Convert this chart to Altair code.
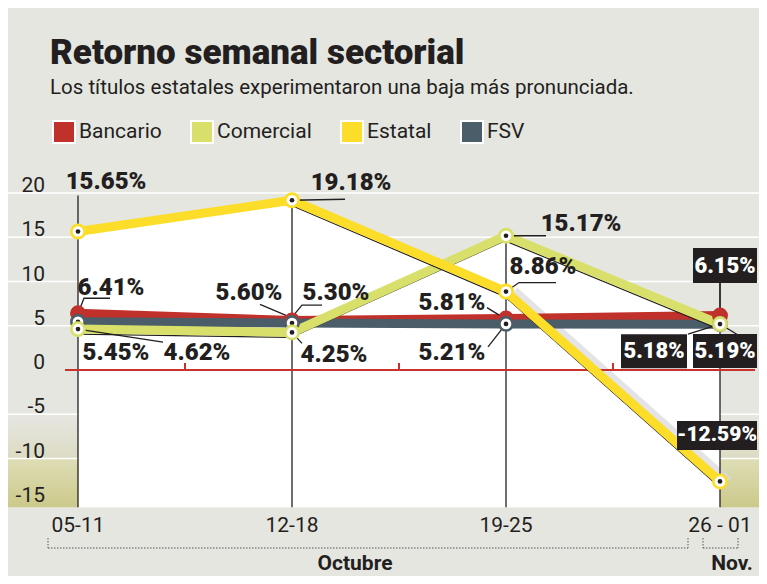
import altair as alt
import pandas as pd

# ---------------- data ----------------
weeks = ["05-11", "12-18", "19-25", "26 - 01"]
series_names = ["Bancario", "Comercial", "Estatal", "FSV"]
bancario = [6.41, 5.60, 5.81, 6.15]
comercial = [4.62, 4.25, 15.17, 5.19]
estatal = [15.65, 19.18, 8.86, -12.59]
fsv = [5.45, 5.30, 5.21, 5.18]
y_tick_values = [20, 15, 10, 5, 0, -5, -10, -15]
grid_values = [20, 15, 10, 5, -5, -10]
month_labels = ["Octubre", "Nov."]
title_text = "Retorno semanal sectorial"
subtitle_text = "Los títulos estatales experimentaron una baja más pronunciada."

values = {"Bancario": bancario, "Comercial": comercial, "Estatal": estatal, "FSV": fsv}

# ---------------- styles ----------------
series_colors = ["#C0312B", "#D8E06B", "#FCDD2A", "#4B5D68"]
color_of = dict(zip(series_names, series_colors))
BG = "#E6E6E1"
INK = "#231F20"
RED = "#C8322B"
FONT = "Roboto"

# ---------------- layout ----------------
W, H = 751, 568
PX_X, PX_Y = 214.0, 8.85
X0_PX, ZERO_PX = 70.0, 362.0
X_DOMAIN = [-X0_PX / PX_X, (W - X0_PX) / PX_X]
Y_DOMAIN = [(ZERO_PX - H) / PX_Y, ZERO_PX / PX_Y]
PLOT_BOTTOM = -15.5
DRAW_ORDER = ["Bancario", "FSV", "Comercial", "Estatal"]
RINGED = ["FSV", "Comercial", "Estatal"]
SHADOW_FROM = {"Comercial": 0, "Estatal": 1}
VLINE_EXTRA_PX = [36, 0, 0, 33]

# label layout: series, week index, dx, dy (px from point), boxed, box w, box h, font size, leader offsets (px)
LABELS = [
    ("Estatal", 0, 28, -49, False, 0, 0, 24, []),
    ("Estatal", 1, 59, -17, False, 0, 0, 24, [(0, 0), (53, -1)]),
    ("Bancario", 0, 33, -25, False, 0, 0, 24, [(0, 0), (6, -15), (32, -15)]),
    ("FSV", 0, 38, 31, False, 0, 0, 24, []),
    ("Comercial", 0, 119, 24, False, 0, 0, 24, [(0, 0), (85, 13)]),
    ("Bancario", 1, -43, -27, False, 0, 0, 24, [(-6, -5), (-32, -16)]),
    ("FSV", 1, 44, -30, False, 0, 0, 24, [(0, -6), (10, -18), (30, -18)]),
    ("Comercial", 1, 42, 23, False, 0, 0, 24, [(0, 0), (10, 11)]),
    ("Comercial", 2, 75, -12, False, 0, 0, 24, [(0, 0), (40, 0)]),
    ("Estatal", 2, 37, -25, False, 0, 0, 24, [(0, 0), (13, -9), (50, -9)]),
    ("Bancario", 2, -54, -16, False, 0, 0, 24, [(-6, -3), (-19, -11)]),
    ("FSV", 2, -54, 29, False, 0, 0, 24, [(0, 0), (-18, 23)]),
    ("Bancario", 3, 5, -50, True, 64, 35, 22, [(0, 0), (0, -33)]),
    ("FSV", 3, -66, 27, True, 66, 34, 22, [(0, 0), (-32, 10)]),
    ("Comercial", 3, 5, 27, True, 64, 34, 22, [(0, 0), (18, 11)]),
    ("Estatal", 3, -3, -46, True, 80, 29, 21, []),
]


def ox(i, dx):
    return i + dx / PX_X


def oy(v, dy):
    return v - dy / PX_Y


def X(f):
    return alt.X(f"{f}:Q", scale=alt.Scale(domain=X_DOMAIN, nice=False, zero=False), axis=None)


def Y(f):
    return alt.Y(f"{f}:Q", scale=alt.Scale(domain=Y_DOMAIN, nice=False, zero=False), axis=None)


rows = []
for s in series_names:
    for i, v in enumerate(values[s]):
        rows.append({"series": s, "idx": i, "value": v, "base": PLOT_BOTTOM})
df = pd.DataFrame(rows)

layers = []

# gradient bands at the bottom
band_df = pd.DataFrame({"x": [X_DOMAIN[0], X_DOMAIN[0]], "x2": [X_DOMAIN[1], X_DOMAIN[1]],
                        "y": [-5.3, -10.0], "y2": [-10.0, PLOT_BOTTOM], "b": [0, 1]})
grad1 = alt.Gradient(gradient="linear", x1=0, x2=0, y1=0, y2=1,
                     stops=[alt.GradientStop(color=BG, offset=0), alt.GradientStop(color="#DCDBC3", offset=1)])
grad2 = alt.Gradient(gradient="linear", x1=0, x2=0, y1=0, y2=1,
                     stops=[alt.GradientStop(color="#DEDDB6", offset=0), alt.GradientStop(color="#CCC98B", offset=1)])
layers.append(alt.Chart(band_df[band_df.b == 0]).mark_rect(color=grad1).encode(
    x=X("x"), x2="x2:Q", y=Y("y"), y2="y2:Q"))
layers.append(alt.Chart(band_df[band_df.b == 1]).mark_rect(color=grad2).encode(
    x=X("x"), x2="x2:Q", y=Y("y"), y2="y2:Q"))

# white gridlines
grid_df = pd.DataFrame({"y": grid_values, "x": X_DOMAIN[0], "x2": X_DOMAIN[1]})
layers.append(alt.Chart(grid_df).mark_rule(color="white", strokeWidth=1.5).encode(
    x=X("x"), x2="x2:Q", y=Y("y")))

# white plotting area under the upper series
for s in ["Estatal", "Comercial", "Bancario"]:
    layers.append(alt.Chart(df[df.series == s]).mark_area(color="white", opacity=1).encode(
        x=X("idx"), y=Y("value"), y2="base:Q"))

# soft shadow beside the falling Estatal line
sd_e = df[(df.series == "Estatal") & (df.idx >= 2)]
layers.append(alt.Chart(sd_e).mark_line(color="#D9D9DE", strokeWidth=10, opacity=0.7, xOffset=8).encode(
    x=X("idx"), y=Y("value"), order="idx:Q"))

# vertical week lines
vrows = []
for i in range(len(weeks)):
    top = max(values[s][i] for s in series_names) + VLINE_EXTRA_PX[i] / PX_Y
    vrows.append({"x": i, "y": PLOT_BOTTOM, "y2": top})
vdf = pd.DataFrame(vrows)
layers.append(alt.Chart(vdf).mark_rule(color=INK, strokeWidth=1.3).encode(
    x=X("x"), y=Y("y"), y2="y2:Q"))

# red zero line with ticks
zdf = pd.DataFrame({"x": [ox(0, -13)], "x2": [ox(3, 35)], "y": [0]})
layers.append(alt.Chart(zdf).mark_rule(color=RED, strokeWidth=2.2).encode(
    x=X("x"), x2="x2:Q", y=Y("y")))
tdf = pd.DataFrame({"x": [0.5, 1.5, 2.5], "y": 0, "y2": 7 / PX_Y})
layers.append(alt.Chart(tdf).mark_rule(color=RED, strokeWidth=2).encode(
    x=X("x"), y=Y("y"), y2="y2:Q"))

# lines
for s in DRAW_ORDER:
    sd = df[df.series == s]
    if s in SHADOW_FROM:
        sh = sd[sd.idx >= SHADOW_FROM[s]]
        layers.append(alt.Chart(sh).mark_line(color=INK, strokeWidth=1.3, yOffset=5, xOffset=-1).encode(
            x=X("idx"), y=Y("value"), order="idx:Q"))
    layers.append(alt.Chart(sd).mark_line(color=color_of[s], strokeWidth=9).encode(
        x=X("idx"), y=Y("value"), order="idx:Q"))

# leader lines
lrows = []
for k, (s, i, dx, dy, boxed, bw, bh, fs, leader) in enumerate(LABELS):
    v = values[s][i]
    for j, (lx, ly) in enumerate(leader):
        lrows.append({"lid": k, "seq": j, "x": ox(i, lx), "y": oy(v, ly)})
ldf = pd.DataFrame(lrows)
layers.append(alt.Chart(ldf).mark_line(color=INK, strokeWidth=1.3).encode(
    x=X("x"), y=Y("y"), detail="lid:N", order="seq:Q"))

# points
legend = alt.Legend(orient="none", legendX=44, legendY=112, direction="horizontal", title=None,
                    symbolType="square", symbolSize=484, symbolStrokeColor="white", symbolStrokeWidth=2,
                    symbolOpacity=1, labelFont=FONT, labelFontSize=21, labelColor=INK, labelOffset=3,
                    columnPadding=25, padding=0, labelLimit=300)
for s in DRAW_ORDER:
    sd = df[df.series == s]
    layers.append(alt.Chart(sd).mark_circle(size=254, opacity=1).encode(
        x=X("idx"), y=Y("value"),
        color=alt.Color("series:N", scale=alt.Scale(domain=series_names, range=series_colors), legend=legend)))
    if s in RINGED:
        layers.append(alt.Chart(sd).mark_circle(size=113, color="white", opacity=1).encode(
            x=X("idx"), y=Y("value")))
        layers.append(alt.Chart(sd).mark_circle(size=22, color=INK, opacity=1).encode(
            x=X("idx"), y=Y("value")))

# labels
trows = []
for k, (s, i, dx, dy, boxed, bw, bh, fs, leader) in enumerate(LABELS):
    v = values[s][i]
    cx, cy = ox(i, dx), oy(v, dy)
    trows.append({"text": f"{v:.2f}%", "x": cx, "y": cy, "boxed": boxed, "fs": fs,
                  "bx": ox(i, dx - bw / 2), "bx2": ox(i, dx + bw / 2),
                  "by": oy(v, dy - bh / 2), "by2": oy(v, dy + bh / 2)})
tdf2 = pd.DataFrame(trows)
plain = tdf2[~tdf2.boxed]
boxed = tdf2[tdf2.boxed]
layers.append(alt.Chart(plain).mark_text(font=FONT, fontWeight=900, color=INK,
                                         align="center", baseline="middle").encode(
    x=X("x"), y=Y("y"), text="text:N", size=alt.Size("fs:Q", scale=None)))
layers.append(alt.Chart(boxed).mark_rect(color=INK).encode(
    x=X("bx"), x2="bx2:Q", y=Y("by"), y2="by2:Q"))
layers.append(alt.Chart(boxed).mark_text(font=FONT, fontWeight=900, color="white",
                                         align="center", baseline="middle").encode(
    x=X("x"), y=Y("y"), text="text:N", size=alt.Size("fs:Q", scale=None)))

# y tick labels
ydf = pd.DataFrame({"v": y_tick_values, "x": ox(0, -33), "label": [str(t) for t in y_tick_values]})
layers.append(alt.Chart(ydf).mark_text(font=FONT, fontSize=21, color=INK, align="right",
                                       baseline="middle", dy=-7).encode(
    x=X("x"), y=Y("v"), text="label:N"))

# x labels
xdf = pd.DataFrame({"x": list(range(len(weeks))), "y": -17.6, "label": weeks})
layers.append(alt.Chart(xdf).mark_text(font=FONT, fontSize=21, color=INK, align="center",
                                       baseline="middle").encode(
    x=X("x"), y=Y("y"), text="label:N"))

# month brackets
br_h = pd.DataFrame({"x": [ox(0, -30), ox(3, -17)], "x2": [ox(3, -32), ox(3, 18)], "y": oy(0, 178)})
br_v = pd.DataFrame({"x": [ox(0, -30), ox(3, -32), ox(3, -17), ox(3, 18)], "y": oy(0, 168), "y2": oy(0, 178)})
layers.append(alt.Chart(br_h).mark_rule(color="#555555", strokeWidth=1, strokeDash=[1.5, 1.5]).encode(
    x=X("x"), x2="x2:Q", y=Y("y")))
layers.append(alt.Chart(br_v).mark_rule(color="#555555", strokeWidth=1, strokeDash=[1.5, 1.5]).encode(
    x=X("x"), y=Y("y"), y2="y2:Q"))
mdf = pd.DataFrame({"x": [ox(1, 63), ox(3, 12)], "y": oy(0, 194), "label": month_labels})
layers.append(alt.Chart(mdf).mark_text(font=FONT, fontSize=21, fontWeight="bold", color=INK,
                                       align="center", baseline="middle").encode(
    x=X("x"), y=Y("y"), text="label:N"))

# title & subtitle
layers.append(alt.Chart(pd.DataFrame({"t": [title_text]})).mark_text(
    font=FONT, fontSize=35, fontWeight=900, color=INK, align="left",
    baseline="alphabetic").encode(x=alt.value(42), y=alt.value(56), text="t:N"))
layers.append(alt.Chart(pd.DataFrame({"t": [subtitle_text]})).mark_text(
    font=FONT, fontSize=20.5, color=INK, align="left", baseline="alphabetic").encode(
    x=alt.value(42), y=alt.value(86), text="t:N"))

chart = alt.layer(*layers).properties(
    width=W, height=H, padding=0, autosize=alt.AutoSizeParams(type="none"), background=BG
).configure_view(stroke=None)

chart.save("out.html", embed_options={"renderer": "svg", "actions": False})
